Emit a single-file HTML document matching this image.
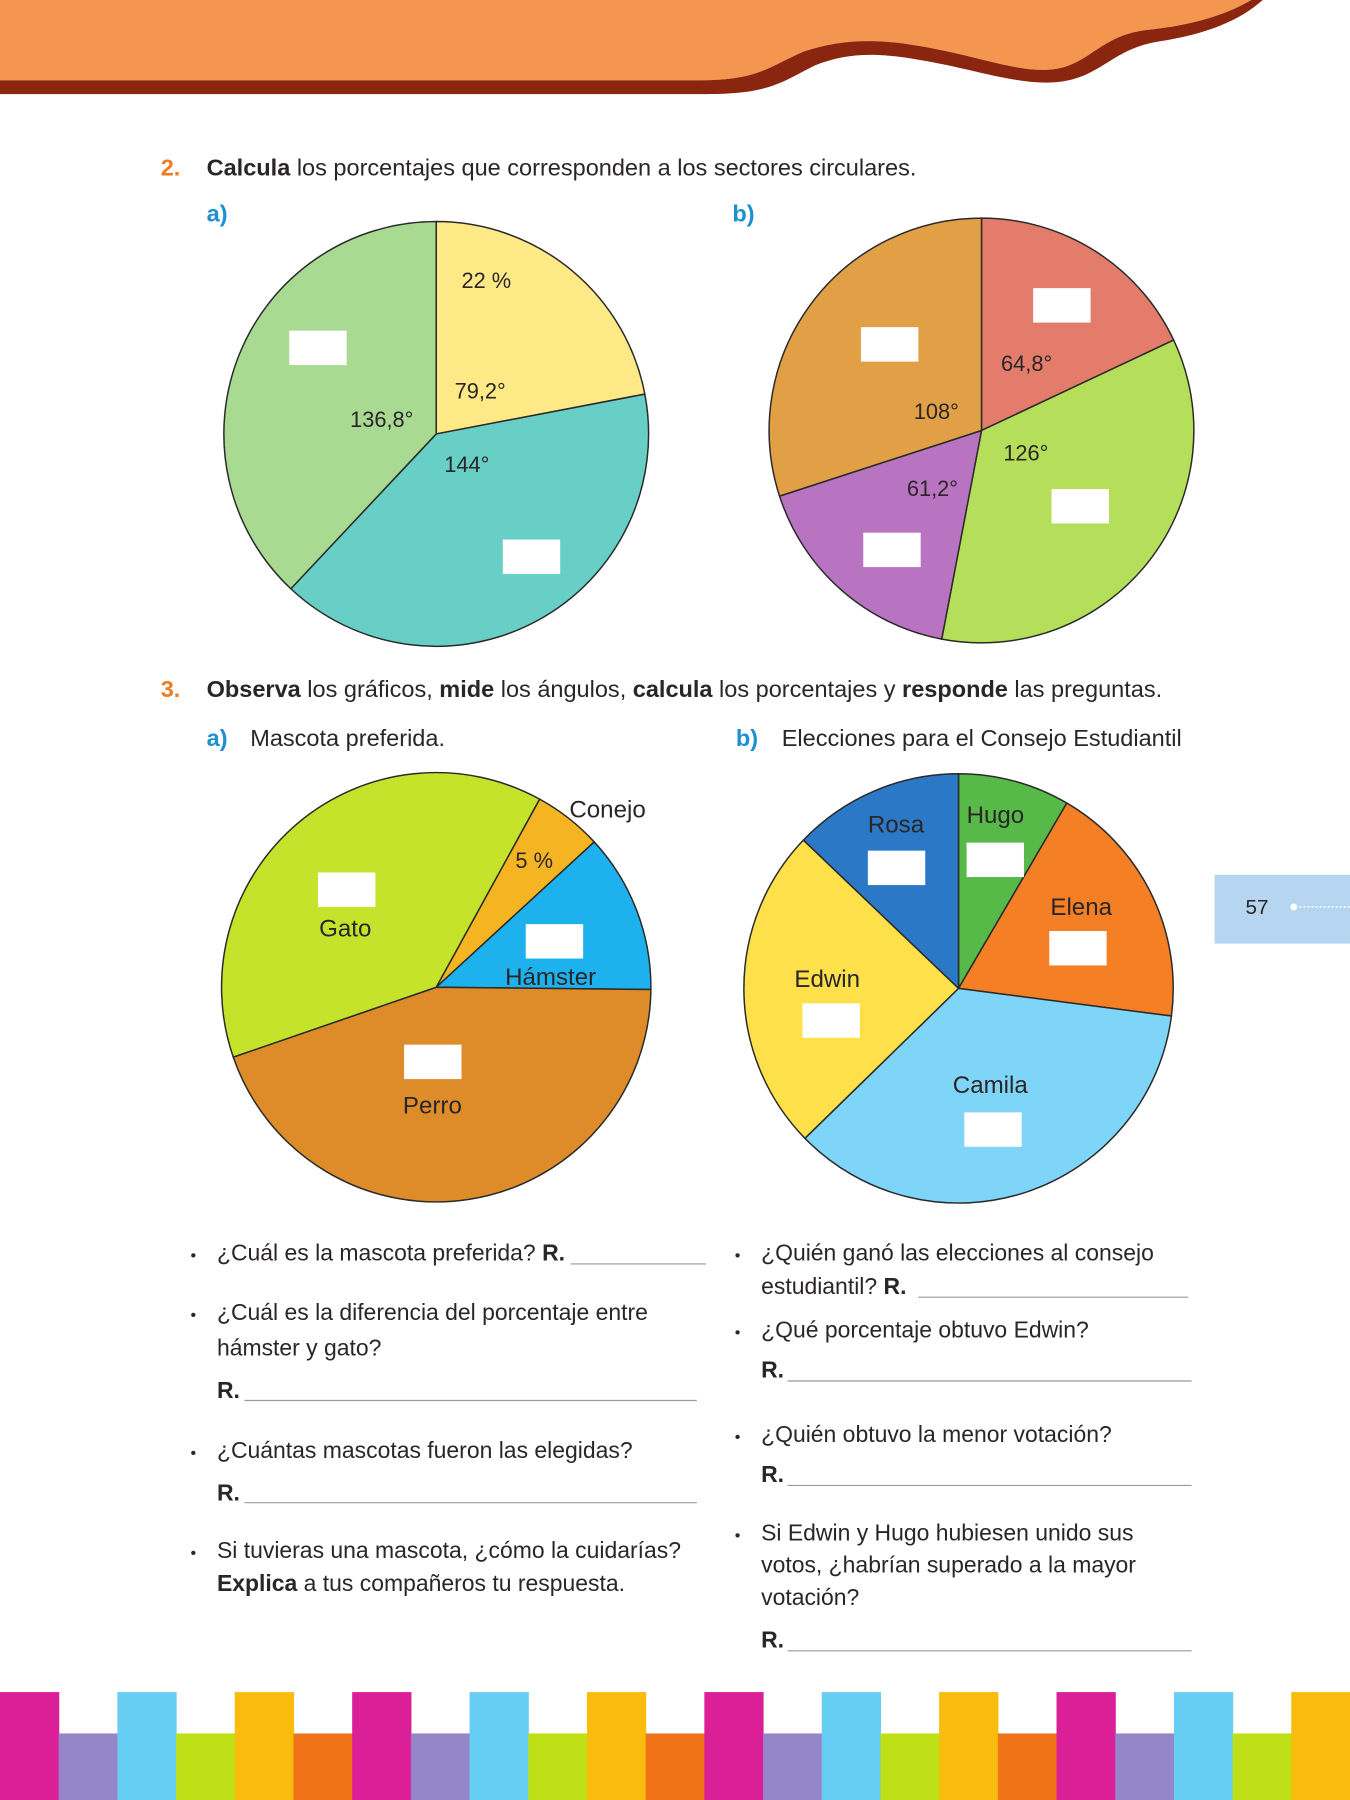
<!DOCTYPE html>
<html><head><meta charset="utf-8"><style>
html,body{margin:0;padding:0;background:#fff;}
svg{display:block}
text{font-family:"Liberation Sans",sans-serif;fill:#2a2627;}
.t{font-size:20px;}
.h{font-size:20.5px;}
.b{font-weight:bold;}
.o{fill:#ef7b22;font-weight:bold;}
.bl{fill:#1e8fd1;font-weight:bold;}
.l{font-size:19px;fill:#3a3536;}
</style></head><body>
<svg id="s" width="1350" height="1800" viewBox="0 0 1176 1568" xmlns="http://www.w3.org/2000/svg">
<path d="M0,0 H1090 C1070,12 1040,22 1000,26 C960,30 950,55 920,60 C890,65 850,48 800,40 C760,33 730,35 700,45 C670,58 660,70 610,70 H0 Z" fill="#f59650"/>
<path d="M0,70 H610 C660,70 670,58 700,45 C730,35 760,33 800,40 C850,48 890,65 920,60 C950,55 960,30 1000,26 C1040,22 1070,12 1090,0 H1100 C1080,18 1050,30 1010,36 C970,42 960,66 925,71 C890,76 850,60 800,52 C760,45 735,47 710,57 C680,72 670,82 615,82 H0 Z" fill="#8a2510"/>
<g id="pies"></g>
<g class="t h">
<text x="140" y="153" class="o">2.</text>
<text x="180" y="153"><tspan class="b">Calcula</tspan> los porcentajes que corresponden a los sectores circulares.</text>
<text x="180" y="193" class="bl">a)</text>
<text x="638" y="193" class="bl">b)</text>
<text x="140" y="607" class="o">3.</text>
<text x="180" y="607"><tspan class="b">Observa</tspan> los gráficos, <tspan class="b">mide</tspan> los ángulos, <tspan class="b">calcula</tspan> los porcentajes y <tspan class="b">responde</tspan> las preguntas.</text>
<text x="180" y="650" class="bl">a)</text><text x="218" y="650">Mascota preferida.</text>
<text x="641" y="650" class="bl">b)</text><text x="681" y="650">Elecciones para el Consejo Estudiantil</text>
</g>
<g class="l">
<text x="402" y="251">22 %</text><text x="396" y="347">79,2°</text><text x="305" y="372">136,8°</text><text x="387" y="411">144°</text>
<text x="872" y="323">64,8°</text><text x="796" y="365">108°</text><text x="874" y="401">126°</text><text x="790" y="432">61,2°</text>
<text x="496" y="712" style="font-size:21px">Conejo</text><text x="449" y="756">5 %</text><text x="278" y="816" style="font-size:21px">Gato</text><text x="440" y="858" style="font-size:21px">Hámster</text><text x="351" y="970" style="font-size:21px">Perro</text>
<text x="756" y="725" style="font-size:21px">Rosa</text><text x="842" y="717" style="font-size:21px">Hugo</text><text x="915" y="797" style="font-size:21px">Elena</text><text x="692" y="860" style="font-size:21px">Edwin</text><text x="830" y="952" style="font-size:21px">Camila</text>
</g>
<g fill="#fff">
<rect x="252" y="288" width="50" height="30"/><rect x="438" y="470" width="50" height="30"/>
<rect x="900" y="251" width="50" height="30"/><rect x="750" y="285" width="50" height="30"/><rect x="916" y="426" width="50" height="30"/><rect x="752" y="464" width="50" height="30"/>
<rect x="277" y="760" width="50" height="30"/><rect x="458" y="805" width="50" height="30"/><rect x="352" y="910" width="50" height="30"/>
<rect x="756" y="741" width="50" height="30"/><rect x="842" y="734" width="50" height="30"/><rect x="914" y="811" width="50" height="30"/><rect x="699" y="874" width="50" height="30"/><rect x="840" y="969" width="50" height="30"/>
</g>
<rect x="1058" y="762" width="118" height="60" fill="#b5d5f0"/>
<text x="1085" y="796" style="font-size:18px">57</text>
<circle cx="1127" cy="790" r="3" fill="#fff"/>
<line x1="1132" y1="790" x2="1176" y2="790" stroke="#fff" stroke-width="1.5" stroke-dasharray="1.5,2"/>
<g class="t" fill="#555">
<text x="166" y="1098" style="font-size:14px">•</text>
<text x="189" y="1098">¿Cuál es la mascota preferida? <tspan class="b">R.</tspan></text>
<text x="166" y="1150" style="font-size:14px">•</text>
<text x="189" y="1150">¿Cuál es la diferencia del porcentaje entre</text>
<text x="189" y="1181">hámster y gato?</text>
<text x="189" y="1218" class="b">R.</text>
<text x="166" y="1270" style="font-size:14px">•</text>
<text x="189" y="1270">¿Cuántas mascotas fueron las elegidas?</text>
<text x="189" y="1307" class="b">R.</text>
<text x="166" y="1357" style="font-size:14px">•</text>
<text x="189" y="1357">Si tuvieras una mascota, ¿cómo la cuidarías?</text>
<text x="189" y="1386"><tspan class="b">Explica</tspan> a tus compañeros tu respuesta.</text>
<text x="640" y="1098" style="font-size:14px">•</text>
<text x="663" y="1098">¿Quién ganó las elecciones al consejo</text>
<text x="663" y="1127">estudiantil? <tspan class="b">R.</tspan></text>
<text x="640" y="1165" style="font-size:14px">•</text>
<text x="663" y="1165">¿Qué porcentaje obtuvo Edwin?</text>
<text x="663" y="1200" class="b">R.</text>
<text x="640" y="1256" style="font-size:14px">•</text>
<text x="663" y="1256">¿Quién obtuvo la menor votación?</text>
<text x="663" y="1291" class="b">R.</text>
<text x="640" y="1342" style="font-size:14px">•</text>
<text x="663" y="1342">Si Edwin y Hugo hubiesen unido sus</text>
<text x="663" y="1370">votos, ¿habrían superado a la mayor</text>
<text x="663" y="1398">votación?</text>
<text x="663" y="1435" class="b">R.</text>
</g>
<g stroke="#999" stroke-width="1">
<line x1="497" y1="1101" x2="615" y2="1101"/><line x1="213" y1="1220" x2="607" y2="1220"/><line x1="213" y1="1309" x2="607" y2="1309"/>
<line x1="800" y1="1130" x2="1035" y2="1130"/><line x1="686" y1="1203" x2="1038" y2="1203"/><line x1="686" y1="1294" x2="1038" y2="1294"/><line x1="686" y1="1438" x2="1038" y2="1438"/>
</g>
<g id="stripes"></g>
</svg>
<script>
var NS="http://www.w3.org/2000/svg";
function pie(cx,cy,r,segs){
 var g=document.getElementById("pies");
 for(var i=0;i<segs.length;i++){
  var a0=segs[i][0]*Math.PI/180,a1=segs[i][1]*Math.PI/180;
  var x0=cx+r*Math.sin(a0),y0=cy-r*Math.cos(a0),x1=cx+r*Math.sin(a1),y1=cy-r*Math.cos(a1);
  var large=(segs[i][1]-segs[i][0])>180?1:0;
  var p=document.createElementNS(NS,"path");
  p.setAttribute("d","M"+cx+","+cy+" L"+x0+","+y0+" A"+r+","+r+" 0 "+large+" 1 "+x1+","+y1+" Z");
  p.setAttribute("fill",segs[i][2]);p.setAttribute("stroke","#2a2a2a");p.setAttribute("stroke-width","1.3");p.setAttribute("stroke-linejoin","round");
  g.appendChild(p);
 }
}
pie(380,378,185,[[0,79.2,"#fde985"],[79.2,223.2,"#67cfc6"],[223.2,360,"#a8da92"]]);
pie(855,375,185,[[0,64.8,"#e37c6a"],[64.8,190.8,"#b5de5a"],[190.8,252,"#b873c1"],[252,360,"#e2a046"]]);
pie(380,860,187,[[28.8,47.4,"#f5b523"],[47.4,90.6,"#1db2ee"],[90.6,251,"#de8c2a"],[251,388.8,"#c5e32a"]]);
pie(835,861,187,[[0,30.3,"#57b947"],[30.3,97.4,"#f47f25"],[97.4,225.7,"#7fd5f7"],[225.7,313.7,"#fde04a"],[313.7,360,"#2a78c6"]]);
var cols=["#da1f97","#9486c8","#67cef3","#bfdf17","#f9bb0c","#f07319"];
var sg=document.getElementById("stripes");
for(var i=0;i<24;i++){var r=document.createElementNS(NS,"rect");var w=1176/23;
 r.setAttribute("x",i*w);r.setAttribute("width",w+0.5);var tall=i%2==0;
 r.setAttribute("y",tall?1474:1510);r.setAttribute("height",tall?94:58);r.setAttribute("fill",cols[i%6]);sg.appendChild(r);}
</script>
</body></html>
